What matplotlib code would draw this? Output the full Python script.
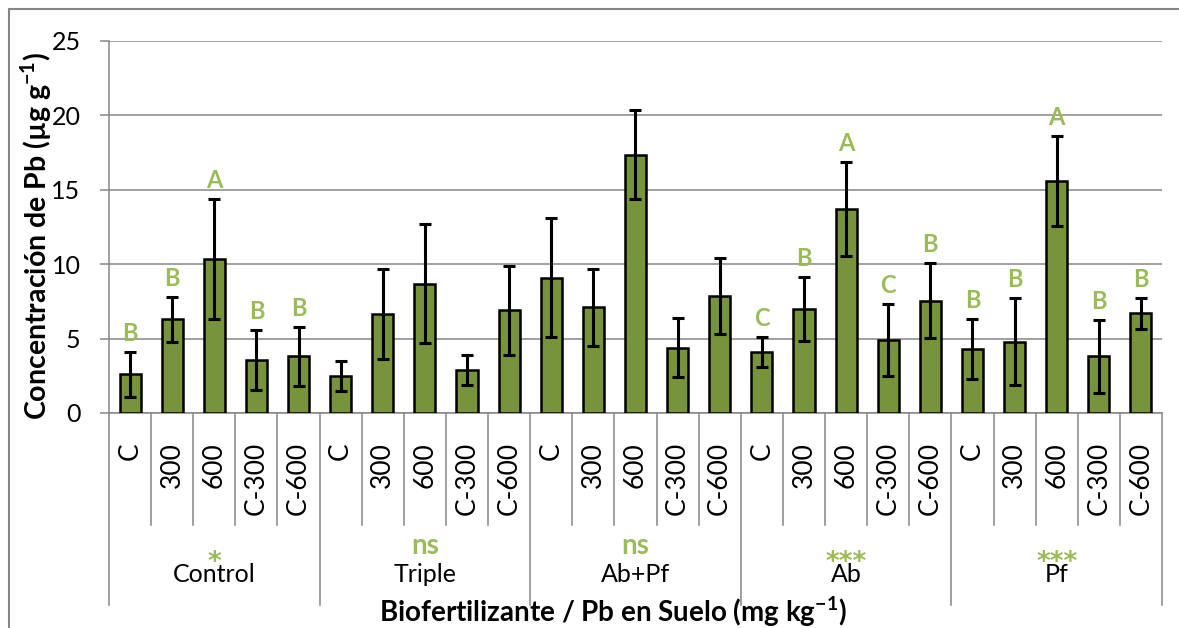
import matplotlib
matplotlib.use("Agg")
import matplotlib.pyplot as plt
from matplotlib.patches import Rectangle
import numpy as np

plt.rcParams['font.family'] = ['Lato', 'DejaVu Sans']
plt.rcParams['mathtext.fontset'] = 'custom'
plt.rcParams['mathtext.rm'] = 'Lato'
plt.rcParams['mathtext.bf'] = 'Lato:bold'

groups = ['Control', 'Triple', 'Ab+Pf', 'Ab', 'Pf']
doses = ['C', '300', '600', 'C-300', 'C-600']
sig = ['*', 'ns', 'ns', '***', '***']

means = [2.6, 6.3, 10.35, 3.55, 3.8,
         2.5, 6.65, 8.7, 2.9, 6.9,
         9.1, 7.1, 17.35, 4.4, 7.85,
         4.1, 7.0, 13.7, 4.9, 7.55,
         4.3, 4.8, 15.6, 3.8, 6.7]
errs = [1.5, 1.5, 4.0, 2.0, 2.0,
        1.0, 3.0, 4.0, 1.0, 3.0,
        4.0, 2.6, 3.0, 2.0, 2.55,
        1.0, 2.15, 3.15, 2.4, 2.5,
        2.0, 2.9, 3.0, 2.45, 1.05]
letters = ['B', 'B', 'A', 'B', 'B',
           '', '', '', '', '',
           '', '', '', '', '',
           'C', 'B', 'A', 'C', 'B',
           'B', 'B', 'A', 'B', 'B']

W, H = 1179, 628
BAR = '#77933C'
GREEN = '#9BBB59'
GRAY = '#868686'

fig = plt.figure(figsize=(W / 100, H / 100), dpi=100)
x0, x1, ytop, ybot = 109, 1162, 41, 413
ax = fig.add_axes([x0 / W, 1 - ybot / H, (x1 - x0) / W, (ybot - ytop) / H])

n = len(means)
x = np.arange(n)
ax.bar(x, means, width=0.5, color=BAR, edgecolor='black', linewidth=1.8, zorder=3)
ax.errorbar(x, means, yerr=errs, fmt='none', ecolor='black', elinewidth=2.2,
            capsize=4, capthick=2.2, zorder=4)

for i in range(n):
    if letters[i]:
        ax.text(x[i], means[i] + errs[i] + 0.75, letters[i], ha='center', va='baseline',
                color=GREEN, fontsize=17, fontweight='bold')

ax.set_xlim(-0.5, n - 0.5)
ax.set_ylim(0, 25)
ax.set_yticks(range(0, 26, 5))
ax.yaxis.grid(True, color=GRAY, linewidth=1.1)
ax.set_axisbelow(True)
for s in ['top', 'right']:
    ax.spines[s].set_visible(False)
for s in ['left', 'bottom']:
    ax.spines[s].set_color(GRAY)
    ax.spines[s].set_linewidth(1.1)
ax.tick_params(axis='y', length=6.5, width=1.1, color=GRAY, pad=14, labelsize=18)
ax.tick_params(axis='x', length=0, labelbottom=False)

def ay(ypix):
    return (ybot - ypix) / (ybot - ytop)

tr = ax.get_xaxis_transform()
for k in range(n + 1):
    bottom = 605 if k % 5 == 0 else 525
    ax.plot([k - 0.5, k - 0.5], [0, ay(bottom)], transform=tr, color=GRAY,
            linewidth=1.1, clip_on=False)

for i in range(n):
    ax.text(x[i], ay(442), doses[i % 5], transform=tr, rotation=90, ha='center',
            va='top', fontsize=19)

for g, name in enumerate(groups):
    xc = g * 5 + 2
    ax.text(xc, ay(582), name, transform=tr, ha='center', va='baseline', fontsize=18)
    if sig[g] == 'ns':
        ax.text(xc, ay(554), sig[g], transform=tr, ha='center', va='baseline',
                fontsize=20, fontweight='bold', color=GREEN)
    else:
        ax.text(xc, ay(570), sig[g], transform=tr, ha='center', va='baseline',
                fontsize=19, fontweight='bold', color=GREEN, family='DejaVu Sans')

fig.text(36 / W, 1 - 236 / H, r'Concentración de Pb (µg g$^{\mathbf{-1}}$)', rotation=90,
         ha='center', va='center', fontsize=20.5, fontweight='bold')
fig.text(613 / W, 1 - 622 / H, r'Biofertilizante / Pb en Suelo (mg kg$^{\mathbf{-1}}$)',
         ha='center', va='baseline', fontsize=20, fontweight='bold')

fig.add_artist(Rectangle((9.5 / W, -0.1), 2, 1.1 - 9.5 / H, transform=fig.transFigure,
                         fill=False, edgecolor=GRAY, linewidth=1.5))

fig.savefig('out.png', dpi=100)
plt.close(fig)
